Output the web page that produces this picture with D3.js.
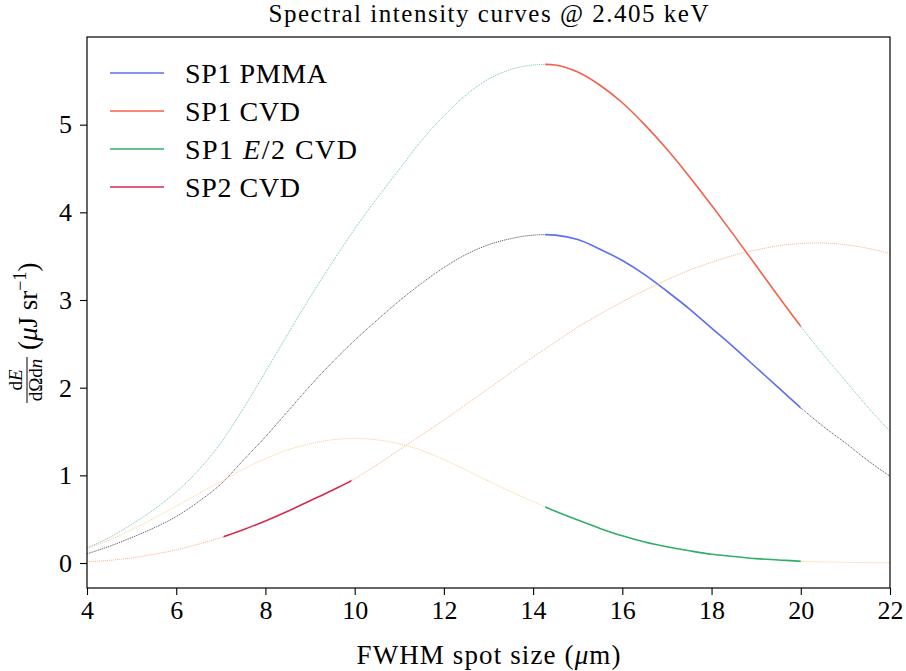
<!DOCTYPE html>
<html>
<head>
<meta charset="utf-8">
<script src="https://cdn.jsdelivr.net/npm/d3@7"></script>
<style>
  html, body { margin: 0; padding: 0; background: #fff; }
  svg { display: block; }
</style>
</head>
<body>
<svg id="chart" width="906" height="671"></svg>
<script>
// FWHM spot size grid (µm)
const spotSize = [4, 4.5, 5, 5.5, 6, 6.5, 7, 7.5, 8, 8.5, 9, 9.5, 10, 10.5, 11, 11.5, 12, 12.5,
  13, 13.5, 14, 14.5, 15, 15.5, 16, 16.5, 17, 17.5, 18, 18.5, 19, 19.5, 20, 20.5, 21, 21.5, 22];

// Spectral intensity dE/dΩdn (µJ sr^-1)
const sp1Pmma = [0.105, 0.19, 0.29, 0.40, 0.53, 0.70, 0.90, 1.17, 1.44, 1.73, 2.02, 2.29, 2.54, 2.77,
  2.99, 3.19, 3.37, 3.52, 3.63, 3.70, 3.74, 3.74, 3.69, 3.58, 3.45, 3.29, 3.10, 2.90, 2.68, 2.46,
  2.23, 2.00, 1.77, 1.56, 1.37, 1.17, 0.99];
const sp1Cvd = [0.17, 0.29, 0.44, 0.61, 0.81, 1.06, 1.37, 1.76, 2.18, 2.61, 3.03, 3.43, 3.81, 4.16,
  4.49, 4.82, 5.10, 5.34, 5.52, 5.63, 5.68, 5.68, 5.60, 5.45, 5.25, 5.00, 4.72, 4.41, 4.08, 3.74,
  3.39, 3.04, 2.70, 2.38, 2.08, 1.78, 1.50];
const sp1HalfCvd = [0.17, 0.26, 0.38, 0.51, 0.65, 0.79, 0.93, 1.07, 1.19, 1.29, 1.36, 1.405, 1.42, 1.405,
  1.36, 1.285, 1.18, 1.06, 0.935, 0.815, 0.70, 0.59, 0.49, 0.395, 0.31, 0.24, 0.185, 0.14, 0.10, 0.075,
  0.05, 0.035, 0.02, 0.013, 0.008, 0.004, 0.002];
const sp2Cvd = [0.015, 0.03, 0.058, 0.10, 0.15, 0.215, 0.29, 0.38, 0.48, 0.59, 0.71, 0.83, 0.96, 1.12,
  1.29, 1.46, 1.63, 1.81, 1.99, 2.17, 2.35, 2.52, 2.69, 2.84, 2.98, 3.11, 3.23, 3.34, 3.43, 3.51,
  3.57, 3.62, 3.645, 3.65, 3.63, 3.59, 3.53];

const seriesNames = ["SP1 PMMA", "SP1 CVD", "SP1 E/2 CVD", "SP2 CVD"];
// spot-size window where each curve is drawn solid
const solidRanges = [[14.27, 20], [14.27, 20], [14.27, 20], [7.06, 9.93]];

const xTicks = [4, 6, 8, 10, 12, 14, 16, 18, 20, 22];
const yTicks = [0, 1, 2, 3, 4, 5];

const serif = "'Liberation Serif', 'Times New Roman', serif";

const series = [
  { name: seriesNames[0], values: sp1Pmma,    range: solidRanges[0], solid: "#5c6ef6", dotted: "#3f4a57", width: 142 },
  { name: seriesNames[1], values: sp1Cvd,     range: solidRanges[1], solid: "#f4604b", dotted: "#6cc3b8", width: 115 },
  { name: seriesNames[2], values: sp1HalfCvd, range: solidRanges[2], solid: "#2fae68", dotted: "#fbcf8c", width: 172 },
  { name: seriesNames[3], values: sp2Cvd,     range: solidRanges[3], solid: "#d82a4f", dotted: "#fcb27e", width: 115 }
];

const svg = d3.select("#chart").style("font-family", serif);
const plotLeft = 87, plotRight = 890, plotTop = 37, plotBottom = 588;

const x = d3.scaleLinear().domain([4, 22]).range([plotLeft, plotRight]);
const y = d3.scaleLinear().domain([-0.285, 6.0]).range([plotBottom, plotTop]);

const defs = svg.append("defs");
defs.append("clipPath").attr("id", "plot-clip")
  .append("rect").attr("x", plotLeft).attr("y", plotTop)
  .attr("width", plotRight - plotLeft).attr("height", plotBottom - plotTop);

series.forEach((s, i) => {
  const inner = defs.append("clipPath").attr("id", "solid-" + i);
  inner.append("rect")
    .attr("x", x(s.range[0])).attr("y", plotTop)
    .attr("width", x(s.range[1]) - x(s.range[0])).attr("height", plotBottom - plotTop);
  const outer = defs.append("clipPath").attr("id", "dotted-" + i);
  outer.append("rect")
    .attr("x", plotLeft).attr("y", plotTop)
    .attr("width", x(s.range[0]) - plotLeft).attr("height", plotBottom - plotTop);
  outer.append("rect")
    .attr("x", x(s.range[1])).attr("y", plotTop)
    .attr("width", plotRight - x(s.range[1])).attr("height", plotBottom - plotTop);
});

const line = d3.line()
  .x((d, i) => x(spotSize[i]))
  .y(d => y(d))
  .curve(d3.curveCatmullRom.alpha(0.5));

const plot = svg.append("g").attr("clip-path", "url(#plot-clip)");

series.forEach((s, i) => {
  plot.append("path")
    .attr("d", line(s.values))
    .attr("fill", "none")
    .attr("stroke", s.dotted)
    .attr("stroke-width", 1)
    .attr("stroke-dasharray", "1,1")
    .attr("clip-path", `url(#dotted-${i})`);
  plot.append("path")
    .attr("d", line(s.values))
    .attr("fill", "none")
    .attr("stroke", s.solid)
    .attr("stroke-width", 1.6)
    .attr("clip-path", `url(#solid-${i})`);
});

// axes
const xAxis = svg.append("g")
  .attr("transform", `translate(0,${plotBottom})`)
  .call(d3.axisBottom(x).tickValues(xTicks).tickSize(7).tickPadding(6).tickFormat(d3.format("d")));
const yAxis = svg.append("g")
  .attr("transform", `translate(${plotLeft},0)`)
  .call(d3.axisLeft(y).tickValues(yTicks).tickSize(7).tickPadding(8).tickFormat(d3.format("d")));
[xAxis, yAxis].forEach(a => {
  a.attr("font-family", null).attr("font-size", null);
  a.select(".domain").remove();
  a.selectAll("line").attr("stroke", "#000").attr("stroke-width", 1.1);
  a.selectAll("text").style("font-family", serif).style("font-size", "26px").attr("fill", "#000");
});

svg.append("rect")
  .attr("x", plotLeft).attr("y", plotTop)
  .attr("width", plotRight - plotLeft).attr("height", plotBottom - plotTop)
  .attr("fill", "none").attr("stroke", "#000").attr("stroke-width", 1.2);

// title
svg.append("text")
  .attr("x", (plotLeft + plotRight) / 2).attr("y", 22)
  .attr("text-anchor", "middle")
  .style("font-family", serif).style("font-size", "25px")
  .attr("textLength", 440).attr("lengthAdjust", "spacing")
  .text("Spectral intensity curves @ 2.405 keV");

// x label
const xl = svg.append("text")
  .attr("x", (plotLeft + plotRight) / 2).attr("y", 664)
  .attr("text-anchor", "middle")
  .style("font-family", serif).style("font-size", "27px")
  .attr("textLength", 264).attr("lengthAdjust", "spacing");
xl.append("tspan").text("FWHM spot size (");
xl.append("tspan").attr("font-style", "italic").text("μ");
xl.append("tspan").text("m)");

// y label: fraction dE / dΩdn followed by units
const yl = svg.append("g").attr("transform", "translate(28,313) rotate(-90)")
  .style("font-family", serif);
const num = yl.append("text").attr("x", -67).attr("y", -6).attr("text-anchor", "middle").style("font-size", "19px");
num.append("tspan").text("d");
num.append("tspan").attr("font-style", "italic").text("E");
yl.append("line").attr("x1", -90).attr("x2", -44).attr("y1", -1).attr("y2", -1)
  .attr("stroke", "#000").attr("stroke-width", 1);
const den = yl.append("text").attr("x", -67).attr("y", 14).attr("text-anchor", "middle").style("font-size", "19px");
den.append("tspan").text("dΩd");
den.append("tspan").attr("font-style", "italic").text("n");
const unit = yl.append("text").attr("x", -37).attr("y", 9).style("font-size", "27px");
unit.append("tspan").text("(");
unit.append("tspan").attr("font-style", "italic").text("μ");
unit.append("tspan").text("J sr");
unit.append("tspan").style("font-size", "18px").attr("dy", -11).text("−1");
unit.append("tspan").attr("dy", 11).text(")");

// legend
const legend = svg.append("g");
series.forEach((s, i) => {
  const ly = 73 + i * 38;
  legend.append("line")
    .attr("x1", 110).attr("x2", 164).attr("y1", ly).attr("y2", ly)
    .attr("stroke", s.solid).attr("stroke-width", 1.6);
  const t = legend.append("text").attr("x", 185).attr("y", ly + 10)
    .style("font-family", serif).style("font-size", "28px")
    .attr("textLength", s.width).attr("lengthAdjust", "spacing");
  if (s.name.includes("E/2")) {
    t.append("tspan").text("SP1 ");
    t.append("tspan").attr("font-style", "italic").text("E");
    t.append("tspan").text("/2 CVD");
  } else {
    t.text(s.name);
  }
});
</script>
</body>
</html>
